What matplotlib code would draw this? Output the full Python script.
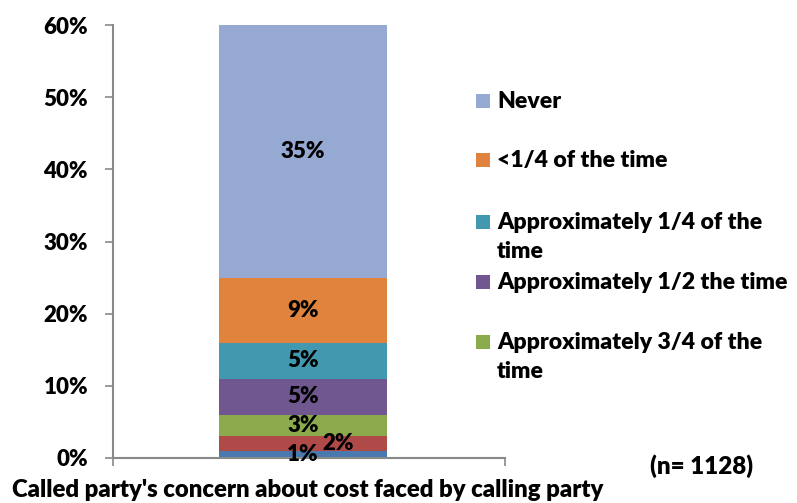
import matplotlib
matplotlib.use("Agg")
import matplotlib.pyplot as plt
from matplotlib.patches import Rectangle

plt.rcParams['font.family'] = ['Lato', 'DejaVu Sans']
plt.rcParams['font.weight'] = 'heavy'

# Stacked segments, bottom to top
segments = ["Always", "Most of the time", "Approximately 3/4 of the\ntime",
            "Approximately 1/2 the time", "Approximately 1/4 of the\ntime",
            "<1/4 of the time", "Never"]
values = [1, 2, 3, 5, 5, 9, 35]
value_labels = ["1%", "2%", "3%", "5%", "5%", "9%", "35%"]
colors = ["#4A79B0", "#B04A48", "#8AAA4B", "#71578F", "#4198AF", "#E0833D", "#95A9D3"]
yticks = [0, 10, 20, 30, 40, 50, 60]
ytick_labels = ["0%", "10%", "20%", "30%", "40%", "50%", "60%"]
legend_items = ["Never", "<1/4 of the time", "Approximately 1/4 of the\ntime",
                "Approximately 1/2 the time", "Approximately 3/4 of the\ntime"]
legend_colors = ["#95A9D3", "#E0833D", "#4198AF", "#71578F", "#8AAA4B"]
xlabel = "Called party's concern about cost faced by calling party"
note = "(n= 1128)"

FS = 16
W, H = 797, 503
fig = plt.figure(figsize=(W / 100, H / 100), dpi=100)
ax = fig.add_axes([113 / W, 1 - 458 / H, (505 - 113) / W, (458 - 25) / H])

bottom = 0
for i, (v, c, lab) in enumerate(zip(values, colors, value_labels)):
    ax.bar(-0.015, v, width=0.43, bottom=bottom, color=c, linewidth=0)
    dx = 0.09 if i == 1 else 0.0
    ax.text(-0.015 + dx, bottom + v / 2, lab, ha='center', va='center',
            fontsize=FS, fontweight='heavy', color='black')
    bottom += v

ax.set_xlim(-0.5, 0.5)
ax.set_ylim(0, 60)
ax.set_yticks(yticks)
ax.set_yticklabels(ytick_labels, fontsize=FS, fontweight='heavy')
ax.set_xticks([-0.5, 0.5])
ax.set_xticklabels([])
for s in ['top', 'right']:
    ax.spines[s].set_visible(False)
for s in ['left', 'bottom']:
    ax.spines[s].set_color('#898989')
    ax.spines[s].set_linewidth(1.5)
ax.tick_params(axis='y', direction='out', length=6, color='#898989', width=1.2, pad=12)
ax.tick_params(axis='x', direction='out', length=6, color='#898989', width=1.2)

# Legend entries drawn on the figure
ys = [101, 160, 222, 282, 342]
for y, lab, c in zip(ys, legend_items, legend_colors):
    fig.patches.append(Rectangle((476 / W, 1 - (y + 7) / H), 14 / W, 14 / H,
                                 transform=fig.transFigure, color=c, linewidth=0))
    fig.text(497 / W, 1 - (y - 10) / H, lab, ha='left', va='top', fontsize=16.6,
             fontweight='heavy', linespacing=1.45)

fig.text(12 / W, 1 - 490 / H, xlabel, ha='left', va='center', fontsize=17.2, fontweight='heavy')
fig.text(650 / W, 1 - 466 / H, note, ha='left', va='center', fontsize=17.4, fontweight='heavy')

fig.savefig("out.png", dpi=100)
